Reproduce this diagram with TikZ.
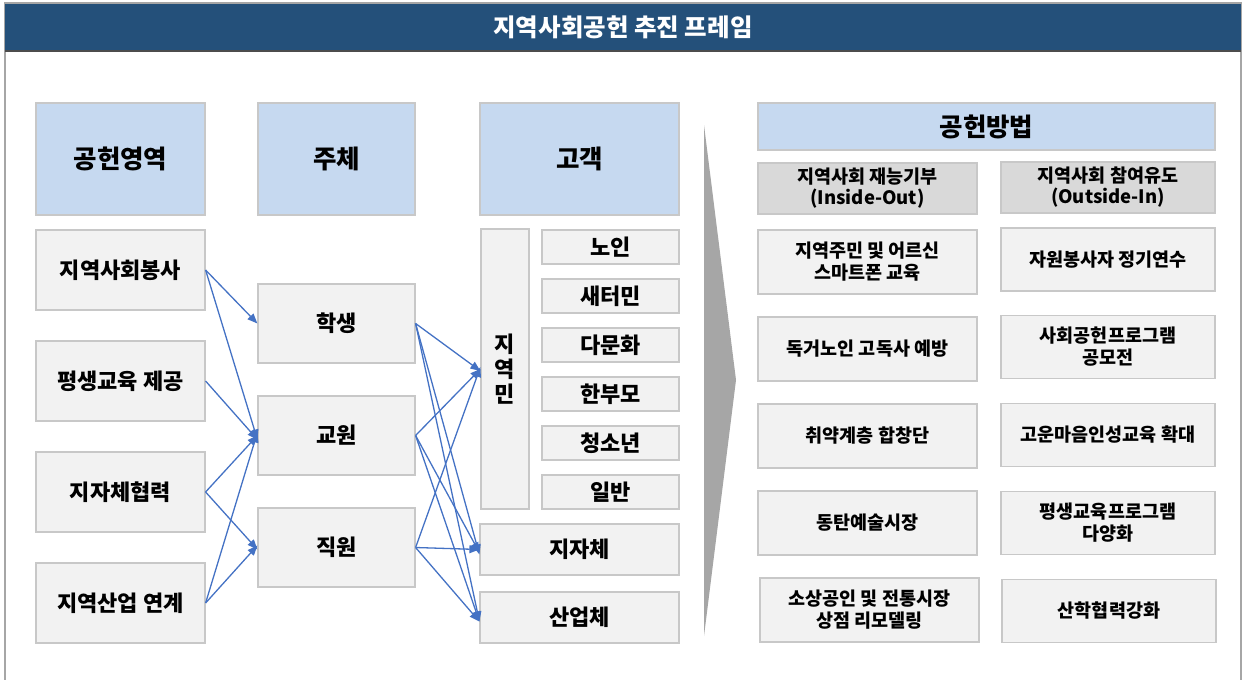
\documentclass[tikz,border=0pt]{standalone}
\usepackage{fontspec}
\setmainfont{Noto Sans CJK KR}
\usetikzlibrary{arrows.meta}

\definecolor{bandeau}{RGB}{36,80,122}
\definecolor{entete}{RGB}{198,217,240}
\definecolor{fond}{RGB}{242,242,242}
\definecolor{sousentete}{RGB}{217,217,217}
\definecolor{bord}{RGB}{200,200,200}
\definecolor{fleche}{RGB}{68,114,196}
\definecolor{pointe}{RGB}{166,166,166}

\tikzset{
  boite/.style={draw=bord, fill=fond, line width=1.2pt, align=center, inner sep=0pt,
    font=\bfseries\fontsize{22}{25}\selectfont},
  titre/.style={boite, fill=entete, font=\bfseries\fontsize{25.5}{29}\selectfont},
  sous/.style={boite, fill=sousentete, font=\bfseries\fontsize{18.5}{21}\selectfont},
  methode/.style={boite, font=\bfseries\fontsize{18.5}{22}\selectfont},
  lien/.style={->, fleche, line width=1.3pt}
}

\begin{document}
\begin{tikzpicture}[x=1pt, y=-1pt, >={Triangle[length=10pt,width=8pt]}]
		\useasboundingbox (0,0) rectangle (1245,680);

		% Cadre et bandeau du titre
		\draw[gray!70, line width=1.2pt] (5,680) -- (5,3) -- (1241,3) -- (1241,680);
		\fill[bandeau] (5,4) rectangle (1241,50);
		\draw[gray!60!black, line width=2pt] (5,51) -- (1241,51);
		\node[text=white, font=\bfseries\fontsize{24.5}{28}\selectfont] (t) at (623,27) {지역사회공헌 추진 프레임};

		% En-têtes des colonnes
		\node[titre, minimum width=169, minimum height=112] (hA) at (120.5,159) {공헌영역};
		\node[titre, minimum width=157, minimum height=112] (hB) at (336.5,159) {주체};
		\node[titre, minimum width=199, minimum height=112] (hC) at (579.5,159) {고객};
		\node[titre, minimum width=457, minimum height=47] (hD) at (986.5,126.5) {공헌방법};

		% Domaines
		\node[boite, minimum width=169, minimum height=80] (a1) at (120.5,270) {지역사회봉사};
		\node[boite, minimum width=169, minimum height=80] (a2) at (120.5,381) {평생교육 제공};
		\node[boite, minimum width=169, minimum height=80] (a3) at (120.5,492) {지자체협력};
		\node[boite, minimum width=169, minimum height=80] (a4) at (120.5,603) {지역산업 연계};

		% Acteurs
		\node[boite, minimum width=157, minimum height=79] (b1) at (336.5,323.5) {학생};
		\node[boite, minimum width=157, minimum height=79] (b2) at (336.5,435.5) {교원};
		\node[boite, minimum width=157, minimum height=79] (b3) at (336.5,547.5) {직원};

		% Publics
		\node[boite, minimum width=48, minimum height=280] (c1) at (505,369) {지\\역\\민};
		\node[boite, minimum width=137, minimum height=34] (g1) at (610.5,247) {노인};
		\node[boite, minimum width=137, minimum height=34] (g2) at (610.5,296) {새터민};
		\node[boite, minimum width=137, minimum height=34] (g3) at (610.5,345) {다문화};
		\node[boite, minimum width=137, minimum height=34] (g4) at (610.5,394) {한부모};
		\node[boite, minimum width=137, minimum height=34] (g5) at (610.5,443) {청소년};
		\node[boite, minimum width=137, minimum height=34] (g6) at (610.5,492) {일반};
		\node[boite, minimum width=199, minimum height=51] (c2) at (579.5,549.5) {지자체};
		\node[boite, minimum width=199, minimum height=51] (c3) at (579.5,617.5) {산업체};

		% Flèches domaines -> acteurs
		\draw[lien] (a1.east) -- (b1.west);
		\draw[lien] (a1.east) -- ([yshift=-4pt]b2.west);
		\draw[lien] (a2.east) -- ([yshift=-4pt]b2.west);
		\draw[lien] (a3.east) -- (b2.west);
		\draw[lien] (a3.east) -- ([yshift=-2pt]b3.west);
		\draw[lien] (a4.east) -- ([yshift=3pt]b2.west);
		\draw[lien] (a4.east) -- ([yshift=2pt]b3.west);

		% Flèches acteurs -> publics
		\draw[lien] (b1.east) -- ([yshift=-2pt]c1.west);
		\draw[lien] (b1.east) -- ([yshift=-5pt]c2.west);
		\draw[lien] (b1.east) -- ([yshift=-4pt]c3.west);
		\draw[lien] (b2.east) -- (c1.west);
		\draw[lien] (b2.east) -- ([yshift=-3pt]c2.west);
		\draw[lien] (b2.east) -- ([yshift=-4pt]c3.west);
		\draw[lien] (b3.east) -- ([yshift=2pt]c1.west);
		\draw[lien] (b3.east) -- (c2.west);
		\draw[lien] (b3.east) -- ([yshift=-4pt]c3.west);

		% Grande pointe grise
		\fill[pointe] (704,125) -- (736,380) -- (704,636) -- cycle;

		% Méthodes
		\node[sous, minimum width=219, minimum height=51] (s1) at (867.5,188.5) {지역사회 재능기부\\(Inside-Out)};
		\node[sous, minimum width=214, minimum height=51] (s2) at (1108,187.5) {지역사회 참여유도\\(Outside-In)};

		\node[methode, minimum width=219, minimum height=64] (m1) at (867.5,262) {지역주민 및 어르신\\스마트폰 교육};
		\node[methode, minimum width=219, minimum height=64] (m2) at (867.5,349) {독거노인 고독사 예방};
		\node[methode, minimum width=219, minimum height=64] (m3) at (867.5,436) {취약계층 합창단};
		\node[methode, minimum width=219, minimum height=64] (m4) at (867.5,523) {동탄예술시장};
		\node[methode, minimum width=219, minimum height=64] (m5) at (869.5,610) {소상공인 및 전통시장\\상점 리모델링};

		\node[methode, minimum width=214, minimum height=63] (n1) at (1108,259.5) {자원봉사자 정기연수};
		\node[methode, minimum width=214, minimum height=63] (n2) at (1108,347) {사회공헌프로그램\\공모전};
		\node[methode, minimum width=214, minimum height=63] (n3) at (1108,435) {고운마음인성교육 확대};
		\node[methode, minimum width=214, minimum height=63] (n4) at (1108,523) {평생교육프로그램\\다양화};
		\node[methode, minimum width=214, minimum height=63] (n5) at (1109,611) {산학협력강화};
	\end{tikzpicture}
\end{document}
